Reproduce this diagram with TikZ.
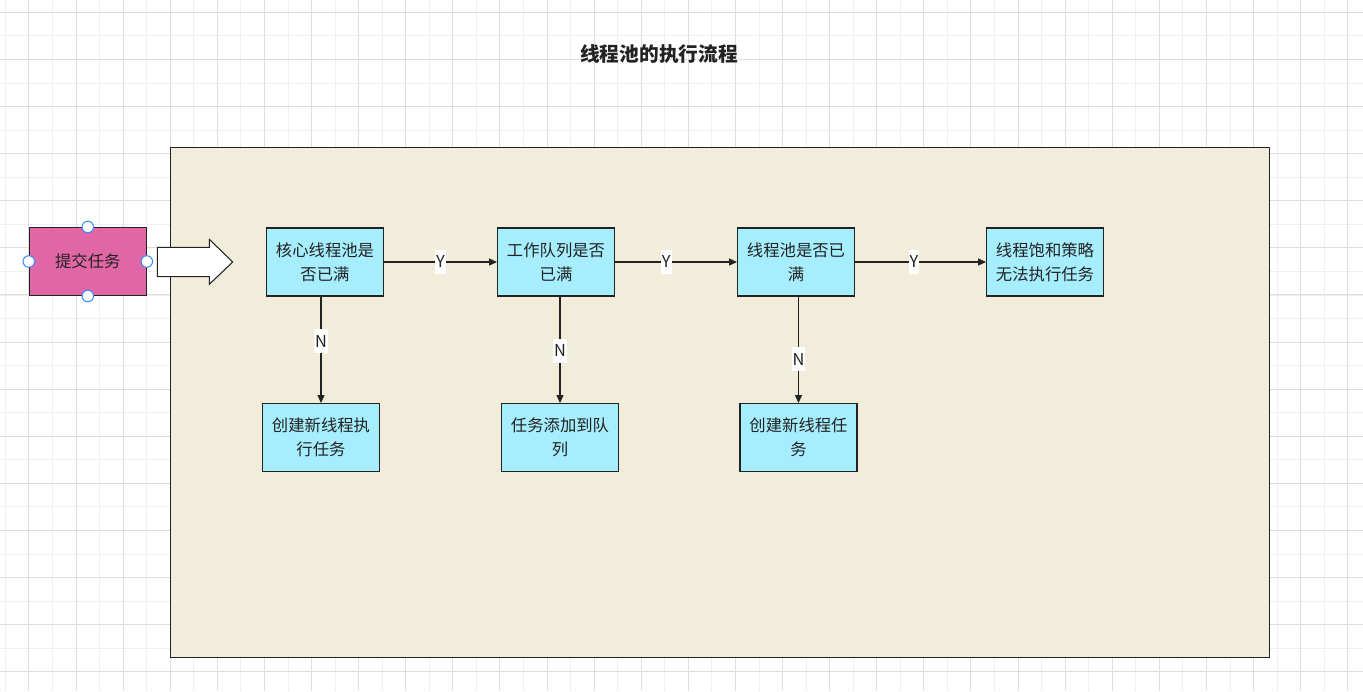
\documentclass[tikz,border=0pt]{standalone}
\usepackage{fontspec}
\newfontfamily\cjk{Noto Sans CJK SC}
\usetikzlibrary{arrows.meta}
\definecolor{gridminor}{RGB}{239,239,239}
\definecolor{gridmajor}{RGB}{222,222,222}
\definecolor{poolbg}{RGB}{242,236,218}
\definecolor{stepfill}{RGB}{166,238,254}
\definecolor{submitfill}{RGB}{224,102,166}
\definecolor{handle}{RGB}{60,140,255}
\definecolor{ink}{RGB}{34,34,34}
\tikzset{
  box/.style={draw=ink, fill=stepfill, line width=0.6pt, minimum width=2.34cm,
    minimum height=1.36cm, align=center, inner sep=0pt, text=ink,
    font=\cjk\fontsize{9.3}{13.6}\selectfont},
  flow/.style={draw=ink, line width=0.6pt, -{Triangle[length=4.5pt,width=4pt]}},
  lbl/.style={fill=white, inner xsep=0.6pt, inner ysep=0pt, minimum height=0.48cm,
    text=ink, font=\cjk\fontsize{9.3}{11}\selectfont},
  handledot/.style={circle, draw=handle, fill=white, line width=0.6pt,
    minimum size=0.23cm, inner sep=0pt}
}

\begin{document}
\begin{tikzpicture}[x=0.02cm,y=-0.02cm]
\useasboundingbox (0,0) rectangle (1363,691);
\fill[white] (0,0) rectangle (1363,691);
\foreach \i in {0,...,57}
  \draw[gridminor, line width=0.45pt] ({5.3+23.55*\i},0) -- ++(0,691);
\foreach \i in {0,...,29}
  \draw[gridminor, line width=0.45pt] (0,{12.3+23.55*\i}) -- ++(1363,0);
\foreach \i in {0,...,28}
  \draw[gridmajor, line width=0.5pt] ({28.85+47.1*\i},0) -- ++(0,691);
\foreach \i in {0,...,14}
  \draw[gridmajor, line width=0.5pt] (0,{12.3+47.1*\i}) -- ++(1363,0);

\node[font=\cjk\bfseries\fontsize{11.2}{13}\selectfont, text=ink] (title) at (659,54) {线程池的执行流程};
\node[draw=ink, fill=poolbg, line width=0.5pt, inner sep=0pt,
  minimum width=21.97cm, minimum height=10.19cm] (pool) at (719.85,402.25) {};

\node[box, fill=submitfill] (submit) at (87.8,261.5) {提交任务};
\foreach \a in {north,south,east,west}{
  \node[handledot] (h-\a) at (submit.\a) {};
}
\draw[ink, fill=white, line width=0.6pt] (157.3,247.3) -- (209.3,247.3) -- (209.3,239.3)
  -- (232.7,262) -- (209.3,284.3) -- (209.3,276.7) -- (157.3,276.7) -- cycle;

\node[box] (core) at (325,262) {核心线程池是\\否已满};
\node[box] (queue) at (556,262) {工作队列是否\\已满};
\node[box] (max) at (796,262) {线程池是否已\\满};
\node[box] (reject) at (1045,262) {线程饱和策略\\无法执行任务};
\node[box] (newcore) at (321,437.5) {创建新线程执\\行任务};
\node[box] (enqueue) at (560,437.5) {任务添加到队\\列};
\node[box] (newmax) at (798.5,437.5) {创建新线程任\\务};

\draw[flow] (core) -- node[lbl, pos=.5]{Y} (queue);
\draw[flow] (queue) -- node[lbl, pos=.42]{Y} (max);
\draw[flow] (max) -- node[lbl, pos=.45]{Y} (reject);
\draw[flow] (core.south -| newcore) -- node[lbl, pos=.42]{N} (newcore);
\draw[flow] (queue.south -| enqueue) -- node[lbl, pos=.51]{N} (enqueue);
\draw[flow] (max.south -| newmax) -- node[lbl, pos=.59]{N} (newmax);
\end{tikzpicture}
\end{document}
